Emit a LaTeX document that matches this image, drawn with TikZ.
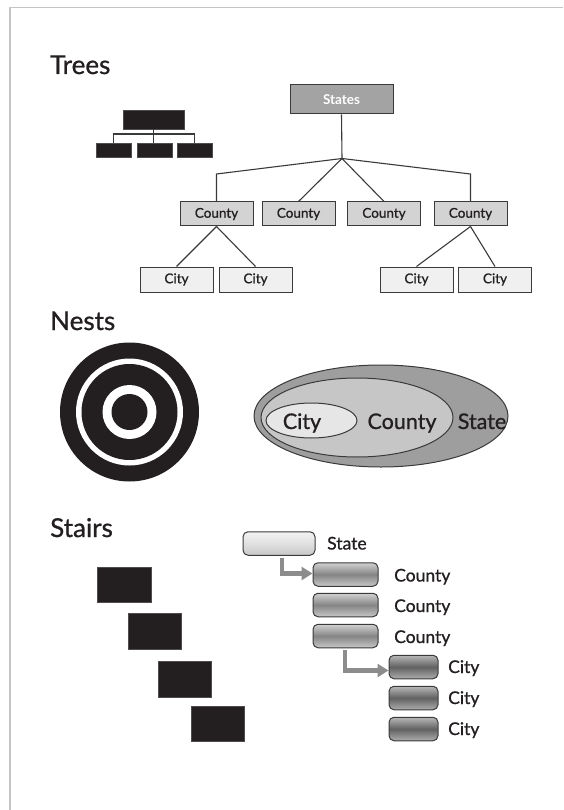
\documentclass[tikz,border=0pt]{standalone}
\usepackage{fontspec}
\setmainfont{Lato}[UprightFeatures={FakeBold=0.9}]
\usetikzlibrary{arrows.meta}

\definecolor{ink}{HTML}{231F20}
\definecolor{edge}{HTML}{3A3A3A}
\definecolor{frame}{HTML}{C4C4C4}
\definecolor{statefill}{HTML}{A3A3A3}
\definecolor{countyfill}{HTML}{D3D3D3}
\definecolor{cityfill}{HTML}{F0F0F0}
\definecolor{nestout}{HTML}{9E9E9E}
\definecolor{nestmid}{HTML}{C6C6C6}
\definecolor{nestin}{HTML}{E6E6E6}
\definecolor{stairarrowc}{HTML}{8C8C8C}

\tikzset{
  title/.style={anchor=base west, inner sep=0pt, font=\fontsize{26}{29}\selectfont, text=ink},
  iconbox/.style={fill=ink, draw=ink!80, line width=0.6pt, inner sep=0pt},
  iconline/.style={draw=edge, line width=1.4pt},
  treebox/.style={draw=edge, line width=1pt, inner sep=0pt, minimum height=24pt,
                  font=\fontsize{13.5}{15}\selectfont, text=ink},
  statebox/.style={treebox, fill=statefill, minimum width=103pt, minimum height=29pt,
                   text=white, font=\fontsize{13.5}{15}\selectfont\bfseries},
  countybox/.style={treebox, fill=countyfill, minimum width=73pt},
  citybox/.style={treebox, fill=cityfill, minimum width=73pt, minimum height=25pt},
  treeline/.style={draw=edge, line width=1.1pt},
  nest/.style={draw=edge, line width=1pt},
  nestlabel/.style={anchor=base, inner sep=0pt, font=\fontsize{21.5}{24}\selectfont, text=ink},
  pill/.style={draw=edge, line width=1pt, rounded corners=5pt, inner sep=0pt, minimum height=23.5pt},
  pillstate/.style={pill, minimum width=72pt, top color=white!95!black, bottom color=black!22, middle color=white!88!black},
  pillcounty/.style={pill, minimum width=65pt, top color=black!18, bottom color=black!22, middle color=black!48},
  pillcity/.style={pill, minimum width=49pt, top color=black!28, bottom color=black!32, middle color=black!62},
  stairlabel/.style={anchor=base west, inner sep=0pt, font=\fontsize{17.5}{20}\selectfont, text=ink},
  stairarrow/.style={draw=stairarrowc, line width=4.5pt,
                     -{Triangle[length=11pt,width=13pt]}},
}

\begin{document}
\begin{tikzpicture}[x=1pt, y=-1pt]
  \useasboundingbox (0,0) rectangle (563,810);

  % page frame
  \draw[frame, line width=1.5pt] (10,810) -- (10,7.5) -- (563,7.5);

  % ---------------- Trees ----------------
  \node[title] (ttrees) at (50,74) {Trees};

  % small tree icon
  \node[iconbox, minimum width=61pt, minimum height=19pt] (ic0) at (153.5,119.5) {};
  \node[iconbox, minimum width=35pt, minimum height=14pt] (ic1) at (113.5,150) {};
  \node[iconbox, minimum width=35pt, minimum height=14pt] (ic2) at (154.5,150) {};
  \node[iconbox, minimum width=35pt, minimum height=14pt] (ic3) at (194.5,150) {};
  \coordinate (icj) at (153.5,134);
  \draw[iconline] (ic0.south) -- (icj);
  \draw[iconline] (ic1.north) |- (icj) -| (ic3.north);
  \draw[iconline] (icj) -- (ic2.north -| icj);

  % States / County / City tree
  \node[statebox] (states) at (341.5,99.5) {States};
  \node[countybox] (c1) at (216.5,214) {County};
  \node[countybox] (c2) at (298.5,214) {County};
  \node[countybox] (c3) at (384,214) {County};
  \node[countybox] (c4) at (470.5,214) {County};
  \node[citybox] (t1) at (176.5,279.5) {City};
  \node[citybox] (t2) at (255.5,279.5) {City};
  \node[citybox] (t3) at (416.5,279.5) {City};
  \node[citybox] (t4) at (495,279.5) {City};

  \coordinate (sj) at (342,158.5);
  \coordinate (k1) at (216.5,174);
  \coordinate (k4) at (470.5,174);
  \draw[treeline] (states.south) -- (sj);
  \draw[treeline] (sj) -- (k1) -- (c1.north);
  \draw[treeline] (sj) -- (c2.north);
  \draw[treeline] (sj) -- (c3.north);
  \draw[treeline] (sj) -- (k4) -- (c4.north);
  \draw[treeline] (c1.south) -- (t1.north);
  \draw[treeline] (c1.south) -- (t2.north);
  \draw[treeline] (c4.south) -- (t3.north);
  \draw[treeline] (c4.south) -- (t4.north);

  % ---------------- Nests ----------------
  \node[title] (tnests) at (50,330) {Nests};

  % target icon
  \fill[ink] (129.5,412) circle (69.5);
  \fill[white] (129.5,412) circle (53.5);
  \fill[ink] (129.5,412) circle (48);
  \fill[white] (129.5,412) circle (27);
  \fill[ink] (129.5,412) circle (18);

  % nested ellipses
  \draw[nest, fill=nestout] (381,416) ellipse [x radius=127, y radius=51];
  \draw[nest, fill=nestmid] (357,417.5) ellipse [x radius=96, y radius=39.5];
  \draw[nest, fill=nestin] (311.5,420.5) ellipse [x radius=45.5, y radius=17.5];
  \node[nestlabel] (nstate) at (482,429) {State};
  \node[nestlabel] (ncounty) at (402,429) {County};
  \node[nestlabel] (ncity) at (302,429) {City};

  % ---------------- Stairs ----------------
  \node[title] (tstairs) at (50,537) {Stairs};

  % staircase icon
  \node[iconbox, minimum width=54pt, minimum height=35pt] (s1) at (124,584.5) {};
  \node[iconbox, minimum width=53pt, minimum height=36pt] (s2) at (154.5,631) {};
  \node[iconbox, minimum width=53pt, minimum height=36pt] (s3) at (184.5,679) {};
  \node[iconbox, minimum width=53pt, minimum height=35pt] (s4) at (217.5,723.5) {};

  % indented list
  \node[pillstate] (pst) at (279,543.5) {};
  \node[pillcounty] (pc1) at (345.5,574.5) {};
  \node[pillcounty] (pc2) at (345.5,605) {};
  \node[pillcounty] (pc3) at (345.5,636) {};
  \node[pillcity] (pt1) at (413.5,667) {};
  \node[pillcity] (pt2) at (413.5,698) {};
  \node[pillcity] (pt3) at (413.5,729) {};

  \node[stairlabel] (lst) at (327,549.5) {State};
  \node[stairlabel] (lc1) at (394,581.5) {County};
  \node[stairlabel] (lc2) at (394,612) {County};
  \node[stairlabel] (lc3) at (394,643) {County};
  \node[stairlabel] (lt1) at (448,673) {City};
  \node[stairlabel] (lt2) at (448,704) {City};
  \node[stairlabel] (lt3) at (448,735) {City};

  \coordinate (a1) at (282,557.5);
  \coordinate (a2) at (345,650);
  \draw[stairarrow] (a1) |- ([yshift=1pt]pc1.west);
  \draw[stairarrow] (a2) |- ([yshift=-3.5pt]pt1.west);
\end{tikzpicture}
\end{document}
